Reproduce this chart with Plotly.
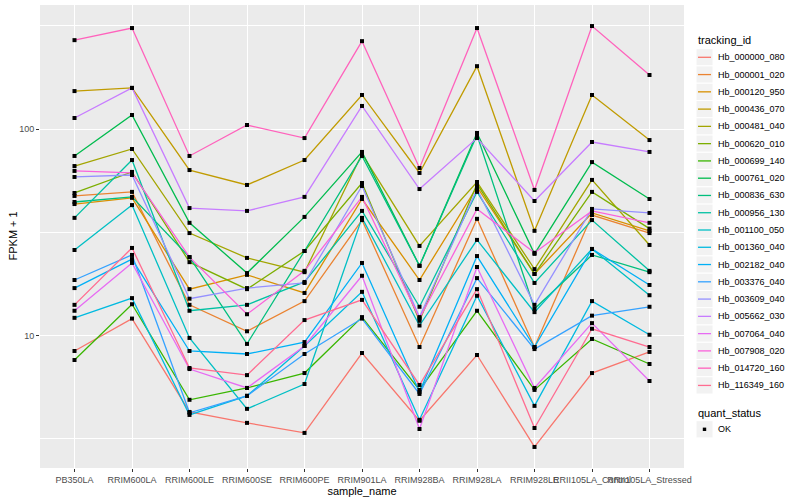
import math
import plotly.graph_objects as go

# ---------------- data ----------------
samples = ["PB350LA", "RRIM600LA", "RRIM600LE", "RRIM600SE", "RRIM600PE", "RRIM901LA",
           "RRIM928BA", "RRIM928LA", "RRIM928LE", "RRII105LA_Control", "RRII105LA_Stressed"]

tracking_ids = ["Hb_000000_080", "Hb_000001_020", "Hb_000120_950", "Hb_000436_070",
                "Hb_000481_040", "Hb_000620_010", "Hb_000699_140", "Hb_000761_020",
                "Hb_000836_630", "Hb_000956_130", "Hb_001100_050", "Hb_001360_040",
                "Hb_002182_040", "Hb_003376_040", "Hb_003609_040", "Hb_005662_030",
                "Hb_007064_040", "Hb_007908_020", "Hb_014720_160", "Hb_116349_160"]

colors = ["#F8766D", "#EA8331", "#D89000", "#C09B00", "#A3A500", "#7CAE00", "#39B600",
          "#00BB4E", "#00BF7D", "#00C1A3", "#00BFC4", "#00BAE0", "#00B0F6", "#35A2FF",
          "#9590FF", "#C77CFF", "#E76BF3", "#FA62DB", "#FF62BC", "#FF6C91"]

# FPKM + 1 per sample (order of `samples`)
Hb_000000_080 = [8.43, 12.1, 4.27, 3.78, 3.38, 8.24, 3.87, 8.06, 2.89, 6.59, 8.34]
Hb_000001_020 = [47.5, 49.7, 14.1, 10.5, 14.7, 36.3, 8.81, 36.8, 8.81, 38.4, 31.4]
Hb_000120_950 = [43.4, 46.5, 16.8, 19.7, 16.1, 45.9, 18.6, 52.5, 19.9, 39.3, 32.2]
Hb_000436_070 = [153, 158.5, 63.4, 53.7, 70.9, 146.5, 61.4, 202, 32.2, 146.5, 88.6]
Hb_000481_040 = [66.3, 80.2, 31.4, 23.8, 20.3, 75.9, 27.2, 55.5, 21.0, 56.8, 27.5]
Hb_000620_010 = [49.1, 62.1, 22.7, 16.8, 25.7, 54.9, 11.8, 54.3, 19.9, 49.7, 33.0]
Hb_000699_140 = [7.62, 14.2, 4.89, 5.58, 6.59, 12.3, 5.46, 13.2, 5.46, 9.64, 7.29]
Hb_000761_020 = [74.2, 117.2, 35.2, 20.1, 37.6, 77.6, 21.8, 95.9, 24.9, 69.3, 45.9]
Hb_000836_630 = [44.4, 47.0, 24.0, 9.12, 25.7, 74.2, 21.8, 93.7, 13.5, 24.6, 20.3]
Hb_000956_130 = [37.2, 70.9, 13.2, 14.1, 18.2, 40.2, 13.8, 49.7, 18.0, 36.3, 20.6]
Hb_001100_050 = [26.0, 42.9, 9.75, 4.42, 5.83, 37.2, 11.2, 29.1, 13.0, 26.3, 15.7]
Hb_001360_040 = [12.2, 15.2, 4.13, 5.11, 8.91, 16.3, 3.91, 15.6, 4.57, 14.7, 10.1]
Hb_002182_040 = [17.0, 23.5, 8.43, 8.15, 9.31, 22.5, 5.34, 24.3, 8.81, 26.3, 17.6]
Hb_003376_040 = [18.6, 24.6, 4.23, 5.11, 8.15, 12.1, 5.22, 19.0, 8.61, 12.5, 13.8]
Hb_003609_040 = [58.7, 60.0, 15.1, 17.0, 18.0, 53.1, 12.3, 51.3, 14.1, 41.1, 39.3]
Hb_005662_030 = [113.3, 158.5, 41.5, 40.2, 47.0, 129.6, 51.3, 90.6, 44.9, 86.7, 77.6]
Hb_007064_040 = [13.2, 22.5, 6.89, 5.58, 8.91, 19.5, 3.53, 21.5, 5.58, 11.5, 6.03]
Hb_007908_020 = [62.8, 61.4, 24.0, 12.7, 20.6, 47.0, 12.1, 41.1, 25.2, 40.2, 35.2]
Hb_014720_160 = [270, 309, 74.2, 104.8, 90.6, 267, 64.9, 309, 50.8, 316, 183]
Hb_116349_160 = [14.1, 26.6, 6.97, 6.44, 11.9, 14.9, 5.77, 16.8, 3.57, 10.8, 8.81]

series_values = [Hb_000000_080, Hb_000001_020, Hb_000120_950, Hb_000436_070, Hb_000481_040,
                 Hb_000620_010, Hb_000699_140, Hb_000761_020, Hb_000836_630, Hb_000956_130,
                 Hb_001100_050, Hb_001360_040, Hb_002182_040, Hb_003376_040, Hb_003609_040,
                 Hb_005662_030, Hb_007064_040, Hb_007908_020, Hb_014720_160, Hb_116349_160]

quant_status = ["OK"]
y_tick_values = [10, 100]
y_tick_labels = ["10", "100"]

# ---------------- layout constants ----------------
W, H = 800, 500
L, R, T, B = 40, 116, 5, 32
PW, PH = W - L - R, H - T - B
FONT = "Liberation Sans, Arial, sans-serif"


def xp(px):
    return (px - L) / PW


def yp(py):
    return (H - B - py) / PH


fig = go.Figure()

for name, col, vals in zip(tracking_ids, colors, series_values):
    fig.add_trace(go.Scatter(x=samples, y=vals, mode="lines", name=name,
                             line=dict(color=col, width=1.3), showlegend=False,
                             hoverinfo="skip"))

all_x = [s for vals in series_values for s in samples]
all_y = [v for vals in series_values for v in vals]
fig.add_trace(go.Scatter(x=all_x, y=all_y, mode="markers", name="OK", showlegend=False,
                         marker=dict(color="black", size=4, symbol="square", line=dict(width=0))))

logs = [math.log10(v) for v in all_y]
lo, hi = min(logs), max(logs)
pad = 0.05 * (hi - lo)

fig.update_layout(
    width=W, height=H,
    margin=dict(l=L, r=R, t=T, b=B, pad=0),
    paper_bgcolor="white",
    plot_bgcolor="#EBEBEB",
    font=dict(family=FONT, size=9, color="black"),
    showlegend=False,
)

fig.update_xaxes(
    type="category", categoryorder="array", categoryarray=samples,
    range=[-0.6, len(samples) - 0.4],
    showgrid=True, gridcolor="white", gridwidth=1.3,
    ticks="outside", ticklen=3, tickwidth=1, tickcolor="#333333",
    tickangle=0, tickfont=dict(size=9, color="#4D4D4D", family=FONT),
    title=dict(text="sample_name", font=dict(size=11, color="black", family=FONT), standoff=3),
    zeroline=False, showline=False, automargin=False,
)

fig.update_yaxes(
    type="log", range=[lo - pad, hi + pad],
    tickmode="array", tickvals=y_tick_values, ticktext=y_tick_labels,
    showgrid=True, gridcolor="white", gridwidth=1.3,
    minor=dict(tickmode="array", tickvals=[10 ** 0.5, 10 ** 1.5, 10 ** 2.5],
               showgrid=True, gridcolor="white", gridwidth=0.7, ticks=""),
    ticks="outside", ticklen=3, tickwidth=1, tickcolor="#333333",
    tickfont=dict(size=9, color="#4D4D4D", family=FONT),
    zeroline=False, showline=False, automargin=False,
)

# ---------------- axis title (y) and legend drawn like ggplot's ----------------
shapes = []
annotations = []

annotations.append(dict(x=xp(12), y=yp(236.5), xref="paper", yref="paper", text="FPKM + 1",
                        textangle=-90, showarrow=False, xanchor="center", yanchor="middle",
                        font=dict(size=11, color="black", family=FONT)))

key_x0, key_x1 = 696, 713
text_x = 716
first_y, step = 57.3, 17.27

annotations.append(dict(x=xp(696), y=yp(40), xref="paper", yref="paper", text="tracking_id",
                        showarrow=False, xanchor="left", yanchor="middle",
                        font=dict(size=11, color="black", family=FONT)))
for i, (name, col) in enumerate(zip(tracking_ids, colors)):
    cy = first_y + step * i
    shapes.append(dict(type="rect", xref="paper", yref="paper",
                       x0=xp(key_x0), x1=xp(key_x1), y0=yp(cy + step / 2), y1=yp(cy - step / 2),
                       fillcolor="#F2F2F2", line=dict(color="white", width=1), layer="above"))
    shapes.append(dict(type="line", xref="paper", yref="paper",
                       x0=xp(key_x0 + 2), x1=xp(key_x1 - 2), y0=yp(cy), y1=yp(cy),
                       line=dict(color=col, width=1.3), layer="above"))
    annotations.append(dict(x=xp(text_x), y=yp(cy), xref="paper", yref="paper", text=name,
                            showarrow=False, xanchor="left", yanchor="middle",
                            font=dict(size=9, color="black", family=FONT)))

annotations.append(dict(x=xp(696), y=yp(412.7), xref="paper", yref="paper", text="quant_status",
                        showarrow=False, xanchor="left", yanchor="middle",
                        font=dict(size=11, color="black", family=FONT)))
for j, qs in enumerate(quant_status):
    cy = 429.3 + step * j
    shapes.append(dict(type="rect", xref="paper", yref="paper",
                       x0=xp(key_x0), x1=xp(key_x1), y0=yp(cy + step / 2), y1=yp(cy - step / 2),
                       fillcolor="#F2F2F2", line=dict(color="white", width=1), layer="above"))
    shapes.append(dict(type="rect", xref="paper", yref="paper",
                       x0=xp(702.8), x1=xp(706.2), y0=yp(cy + 1.7), y1=yp(cy - 1.7),
                       fillcolor="black", line=dict(width=0), layer="above"))
    annotations.append(dict(x=xp(text_x), y=yp(cy), xref="paper", yref="paper", text=qs,
                            showarrow=False, xanchor="left", yanchor="middle",
                            font=dict(size=9, color="black", family=FONT)))

fig.update_layout(shapes=shapes, annotations=annotations)

fig.write_html("out.html", config={"displayModeBar": False},
               post_script="document.body.style.margin='0px';")
